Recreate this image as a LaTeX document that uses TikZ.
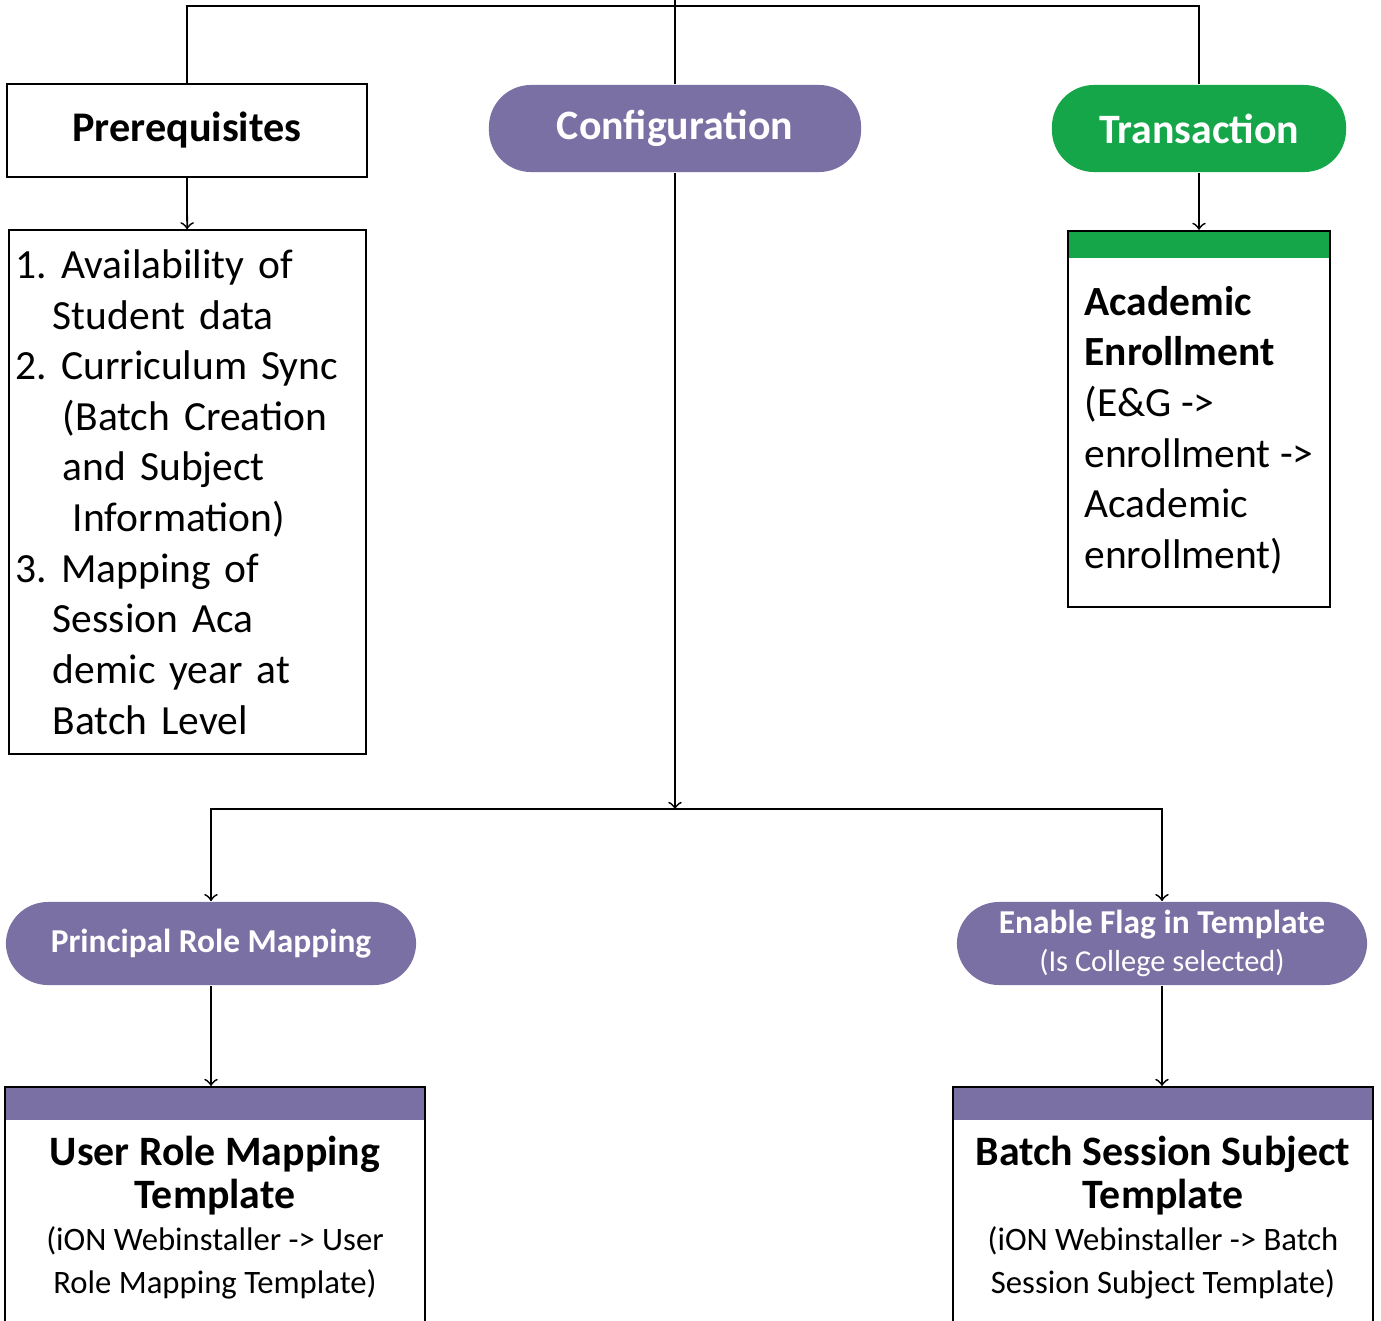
\documentclass[tikz,border=0pt]{standalone}
\usepackage{fontspec}
\setmainfont{Carlito}
\usetikzlibrary{positioning}
\definecolor{cfgpurple}{RGB}{123,112,163}
\definecolor{trgreen}{RGB}{22,166,74}
\newcommand\fsz[2]{\fontsize{#1}{#2}\selectfont}
\tikzset{bar/.style 2 args={path picture={\fill[#1] (path picture bounding box.north west) rectangle ([yshift=-#2]path picture bounding box.north east);}}}
\frenchspacing

\begin{document}
\begin{tikzpicture}[x=0.01cm, y=-0.01cm, line width=0.5pt,
    box/.style = {draw, line width=0.6pt, fill=white},
    pill/.style = {fill=#1, text=white, rounded corners=0.42cm, inner sep=0pt}]
  \useasboundingbox (0,0) rectangle (1381,1321);
  \clip (0,0) rectangle (1381,1321);

  % top row
  \node[box, minimum width=3.6cm, minimum height=0.93cm, font=\fsz{12}{14}\bfseries](1) at (187,130.5){Prerequisites};
  \node[box, minimum width=3.57cm, minimum height=5.23cm, text width=3.43cm, inner xsep=0.07cm, align=left, font=\fsz{11.8}{14.4}](2) at (187.5,492){1. Availability of\\
    \hspace*{0.37cm}Student data\\
    2. Curriculum Sync\\
    \hspace*{0.47cm}(Batch Creation\\
    \hspace*{0.47cm}and Subject\\
    \hspace*{0.57cm}Information)\\
    3. Mapping of\\
    \hspace*{0.37cm}Session Aca\\
    \hspace*{0.37cm}demic year at\\
    \hspace*{0.37cm}Batch Level};
  \node[pill=cfgpurple, minimum width=3.72cm, minimum height=0.87cm, font=\fsz{11.9}{13}\bfseries](3) at (675,128.5){Configuration};
  \node[pill=trgreen, minimum width=2.94cm, minimum height=0.87cm, font=\fsz{11.9}{13}\bfseries](4) at (1199,128.5){Transaction};
  \node[box, bar={trgreen}{0.27cm}, minimum width=2.62cm, minimum height=3.76cm, align=left, font=\fsz{11.8}{14.4}](5) at (1199,419){\rule{0pt}{14.6pt}\textbf{Academic}\\
    \textbf{Enrollment}\\
    (E\&G ->\\
    enrollment ->\\
    Academic\\
    enrollment)};

  % second row
  \node[pill=cfgpurple, minimum width=4.1cm, minimum height=0.83cm, font=\fsz{9.5}{11}\bfseries](6) at (211,943.5){Principal Role Mapping};
  \node[pill=cfgpurple, minimum width=4.1cm, minimum height=0.83cm, align=center, font=\fsz{8.65}{10.8}](7) at (1162,943.5){{\fsz{9.5}{10.8}\bfseries Enable Flag in Template}\\
    (Is College selected)};
  \node[box, bar={cfgpurple}{0.33cm}, anchor=north, minimum width=4.2cm, inner ysep=0.49cm, align=center, font=\fsz{9.3}{12.1}](8) at (215,1086){{\fsz{11.9}{12}\bfseries User Role Mapping}\\
    {\fsz{11.9}{12}\bfseries Template}\\
    (iON Webinstaller -> User\\
    Role Mapping Template)};
  \node[box, bar={cfgpurple}{0.33cm}, anchor=north, minimum width=4.2cm, inner ysep=0.49cm, align=center, font=\fsz{9.3}{12.1}](9) at (1163,1086){{\fsz{11.9}{12}\bfseries Batch Session Subject}\\
    {\fsz{11.9}{12}\bfseries Template}\\
    (iON Webinstaller -> Batch\\
    Session Subject Template)};

  \coordinate(t) at (675,-5);
  \coordinate(h) at (675,6);
  \coordinate(j) at (675,809);

  \draw (1.north) |- (h) -| (4.north); \draw (t) -- (3);
  \draw[->] (1) -- (2); \draw[->] (4) -- (5); \draw[->] (3) -- (j);
  \draw[->] (j) -| (6); \draw[->] (j) -| (7);
  \draw[->] (6) -- (6 |- 8.north); \draw[->] (7) -- (7 |- 9.north);
\end{tikzpicture}
\end{document}
